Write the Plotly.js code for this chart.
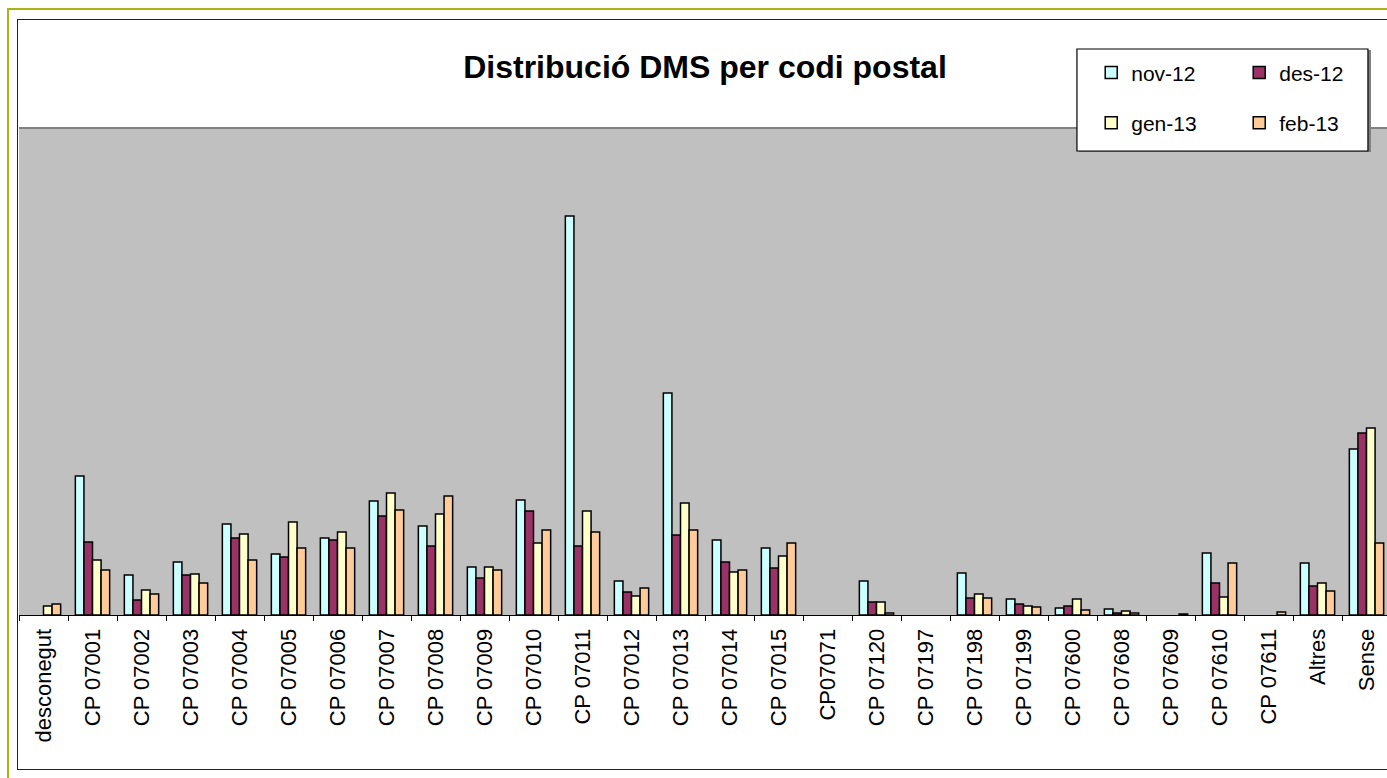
<!DOCTYPE html>
<html>
<head>
<meta charset="utf-8">
<script src="https://cdn.plot.ly/plotly-3.0.1.min.js"></script>
<style>
html, body { margin: 0; padding: 0; width: 1387px; height: 778px; overflow: hidden; background: #ffffff; }
#chart { position: absolute; left: 0; top: 0; }
#olive { position: absolute; left: 7px; top: 8px; width: 2000px; height: 2000px; border: 2px solid #A9B516; pointer-events: none; box-sizing: border-box; }
#frame { position: absolute; left: 17px; top: 19px; width: 2000px; height: 751px; border: 1.5px solid #222222; pointer-events: none; box-sizing: border-box; }
</style>
</head>
<body>
<div id="chart"></div>
<div id="olive"></div>
<div id="frame"></div>
<script>
const categories = ["desconegut","CP 07001","CP 07002","CP 07003","CP 07004","CP 07005","CP 07006","CP 07007","CP 07008","CP 07009","CP 07010","CP 07011","CP 07012","CP 07013","CP 07014","CP 07015","CP07071","CP 07120","CP 07197","CP 07198","CP 07199","CP 07600","CP 07608","CP 07609","CP 07610","CP 07611","Altres","Sense"];
const seriesNames = ["nov-12","des-12","gen-13","feb-13"];
const nov12 = [null,139,40,53,91,61,77,114,89,48,115,399,34,222,75,67,null,34,null,42,16,7,6,null,62,null,52,166];
const des12 = [null,73,15,40,77,58,75,99,69,37,104,69,23,80,53,47,null,13,null,17,11,9,2,null,32,null,29,182];
const gen13 = [9,55,25,41,81,93,83,122,101,48,72,104,19,112,43,59,null,13,null,21,9,16,4,null,18,null,32,187];
const feb13 = [11,45,21,32,55,67,67,105,119,45,85,83,27,85,45,72,null,2,null,17,8,5,2,1,52,3,24,72];
const colors = ["#CCFFFF","#993366","#FFFFCC","#FFCC99"];

const values = [nov12, des12, gen13, feb13];
const legendIds = ["legend","legend","legend2","legend2"];
const FONT = "Liberation Sans, Arial, sans-serif";

const traces = values.map((v, i) => ({
  type: "bar",
  name: seriesNames[i],
  x: categories,
  y: v,
  legend: legendIds[i],
  marker: { color: colors[i], line: { color: "#000000", width: 1.5 } },
  hoverinfo: "x+y+name"
}));

const layout = {
  width: 1400,
  height: 778,
  margin: { l: 19, r: 9, t: 128, b: 163 },
  paper_bgcolor: "#ffffff",
  plot_bgcolor: "#C0C0C0",
  barmode: "group",
  bargap: 0.3,
  bargroupgap: 0,
  title: {
    text: "Distribució DMS per codi postal",
    font: { family: FONT, size: 32, color: "#000000", weight: "bold" },
    xref: "paper", x: 0.5, xanchor: "center",
    yref: "container", y: 0.914, yanchor: "middle"
  },
  xaxis: {
    type: "category",
    categoryorder: "array",
    categoryarray: categories,
    tickson: "boundaries",
    ticks: "outside",
    ticklen: 5,
    tickcolor: "#000000",
    tickwidth: 1,
    showline: true,
    linecolor: "#000000",
    linewidth: 1,
    showgrid: false,
    tickangle: -90,
    ticklabelstandoff: 4,
    tickfont: { family: FONT, size: 22, color: "#000000" },
    fixedrange: true
  },
  yaxis: {
    range: [0, 487],
    showticklabels: false,
    showgrid: false,
    zeroline: false,
    showline: false,
    ticks: "",
    fixedrange: true
  },
  shapes: [
    { type: "line", xref: "paper", yref: "paper", x0: 0, x1: 1, y0: 1, y1: 1, line: { color: "#808080", width: 2 } },
    { type: "rect", xref: "paper", yref: "paper", x0: 0.7726, x1: 0.9854, y0: 0.9508, y1: 1.1602, fillcolor: "#808080", line: { width: 0 }, layer: "above" },
    { type: "rect", xref: "paper", yref: "paper", x0: 0.7711, x1: 0.9832, y0: 0.9528, y1: 1.1622, fillcolor: "#ffffff", line: { color: "#000000", width: 1.2 }, layer: "above" }
  ],
  legend: {
    orientation: "h",
    x: 0.7815, xanchor: "left",
    y: 1.113, yanchor: "middle",
    entrywidth: 103,
    bgcolor: "rgba(0,0,0,0)",
    borderwidth: 0,
    font: { family: FONT, size: 21, color: "#000000" },
    traceorder: "normal"
  },
  legend2: {
    orientation: "h",
    x: 0.7815, xanchor: "left",
    y: 1.010, yanchor: "middle",
    entrywidth: 103,
    bgcolor: "rgba(0,0,0,0)",
    borderwidth: 0,
    font: { family: FONT, size: 21, color: "#000000" },
    traceorder: "normal"
  },
  showlegend: true
};

Plotly.newPlot("chart", traces, layout, { displayModeBar: false, staticPlot: false });
</script>
</body>
</html>
